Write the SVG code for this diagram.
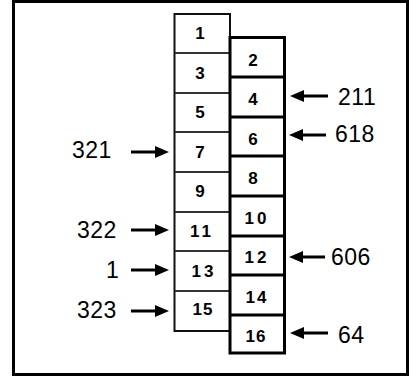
<svg xmlns="http://www.w3.org/2000/svg" width="411" height="378" viewBox="0 0 411 378">
<style>
.num{font-family:"Liberation Sans",Arial,sans-serif;font-weight:bold;font-size:17px;fill:#000;}
.lbl{font-family:"Liberation Sans",Arial,sans-serif;font-size:23px;fill:#000;letter-spacing:0.5px;}
.lc{fill:#fff;stroke:#111;stroke-width:2;}
.ld{stroke:#333;stroke-width:2;}
.rc{fill:#fff;stroke:#000;stroke-width:3;}
.rd{stroke:#000;stroke-width:3;}
.ar{stroke:#000;stroke-width:3;fill:none;}
.ah{fill:#000;}
</style>
<rect x="0" y="0" width="411" height="378" fill="#fff"/>
<rect x="13.5" y="1.5" width="394" height="373" fill="none" stroke="#000" stroke-width="3"/>
<g id="left-column">
<rect class="lc" x="174.5" y="14" width="55.5" height="317"/>
<line class="ld" x1="175" y1="53" x2="229" y2="53"/>
<line class="ld" x1="175" y1="93" x2="229" y2="93"/>
<line class="ld" x1="175" y1="132" x2="229" y2="132"/>
<line class="ld" x1="175" y1="172" x2="229" y2="172"/>
<line class="ld" x1="175" y1="212" x2="229" y2="212"/>
<line class="ld" x1="175" y1="251" x2="229" y2="251"/>
<line class="ld" x1="175" y1="291" x2="229" y2="291"/>
</g>
<g id="right-column">
<rect class="rc" x="230" y="37.5" width="54.5" height="315.5"/>
<line class="rd" x1="230" y1="77" x2="284" y2="77"/>
<line class="rd" x1="230" y1="117" x2="284" y2="117"/>
<line class="rd" x1="230" y1="156" x2="284" y2="156"/>
<line class="rd" x1="230" y1="196" x2="284" y2="196"/>
<line class="rd" x1="230" y1="236" x2="284" y2="236"/>
<line class="rd" x1="230" y1="275" x2="284" y2="275"/>
<line class="rd" x1="230" y1="315" x2="284" y2="315"/>
</g>
<g id="cells" class="num" text-anchor="middle">
<text x="200" y="39">1</text>
<text x="200" y="79">3</text>
<text x="200" y="118">5</text>
<text x="200" y="158">7</text>
<text x="200" y="197">9</text>
<text x="202" y="237" letter-spacing="3">11</text>
<text x="204" y="277" letter-spacing="3">13</text>
<text x="203" y="315" letter-spacing="1">15</text>
<text x="253" y="66">2</text>
<text x="253" y="105">4</text>
<text x="253" y="145">6</text>
<text x="253" y="184">8</text>
<text x="257" y="224" letter-spacing="3">10</text>
<text x="257" y="263" letter-spacing="3">12</text>
<text x="257" y="303" letter-spacing="2">14</text>
<text x="256" y="342" letter-spacing="1">16</text>
</g>
<g id="connectors">
<line class="ar" x1="131" y1="152" x2="157" y2="152"/><polygon class="ah" points="169,152 155,146 155,158"/>
<line class="ar" x1="131" y1="230" x2="157" y2="230"/><polygon class="ah" points="169,230 155,224 155,236"/>
<line class="ar" x1="131" y1="270" x2="157" y2="270"/><polygon class="ah" points="169,270 155,264 155,276"/>
<line class="ar" x1="131" y1="311" x2="157" y2="311"/><polygon class="ah" points="169,311 155,305 155,317"/>
<line class="ar" x1="302" y1="96" x2="328" y2="96"/><polygon class="ah" points="290,96 304,90 304,102"/>
<line class="ar" x1="302" y1="135" x2="326" y2="135"/><polygon class="ah" points="289,135 303,129 303,141"/>
<line class="ar" x1="302" y1="257" x2="325" y2="257"/><polygon class="ah" points="289,257 303,251 303,263"/>
<line class="ar" x1="302" y1="333" x2="328" y2="333"/><polygon class="ah" points="290,333 304,327 304,339"/>
</g>
<g id="labels" class="lbl">
<text x="72" y="158">321</text>
<text x="77" y="238">322</text>
<text x="106" y="278">1</text>
<text x="77" y="318">323</text>
<text x="338" y="105">211</text>
<text x="335" y="142">618</text>
<text x="331" y="265">606</text>
<text x="338" y="343">64</text>
</g>
</svg>
